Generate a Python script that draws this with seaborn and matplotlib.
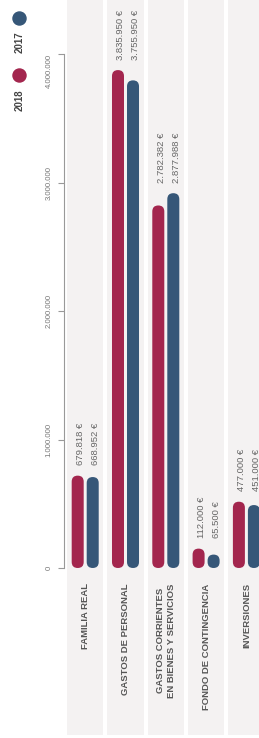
import matplotlib
matplotlib.use("Agg")
import matplotlib.pyplot as plt
from matplotlib.patches import FancyBboxPatch
from matplotlib.lines import Line2D
import seaborn as sns
import pandas as pd

# datos
categorias = ['FAMILIA REAL', 'GASTOS DE PERSONAL',
              'GASTOS CORRIENTES\nEN BIENES Y SERVICIOS',
              'FONDO DE CONTINGENCIA', 'INVERSIONES']
anios = ['2018', '2017']
valores_2018 = [679818, 3835950, 2782382, 112000, 477000]
valores_2017 = [668952, 3755950, 2877988, 65500, 451000]
ticks_y = [0, 1000000, 2000000, 3000000, 4000000]

colores = {'2018': '#a3264e', '2017': '#365778'}
gris_fondo = '#f4f2f2'

df = pd.DataFrame({
    'categoria': categorias * 2,
    'anio': ['2018'] * len(categorias) + ['2017'] * len(categorias),
    'valor': valores_2018 + valores_2017,
})


def miles(v):
    return f"{v:,.0f}".replace(',', '.')


sns.set_style('white')
plt.rcParams['font.family'] = ['Liberation Sans', 'DejaVu Sans']

W, H = 259, 738
fig = plt.figure(figsize=(W / 100, H / 100), dpi=100)
# eje: espina izquierda en x=63.5 px, ocupa todo el alto
ax = fig.add_axes([63.5 / W, 0, (W - 63.5) / W, 1])

px_y = 4000000 / 514          # unidades de valor por pixel
px_x = 1 / 40.3               # unidades de categoría por pixel

sns.barplot(data=df, x='categoria', y='valor', hue='anio', hue_order=anios,
            order=categorias, palette=colores, saturation=1, width=0.745,
            gap=0.2, legend=False, ax=ax, zorder=2)

ax.set_xlim((63.5 - 85.2) * px_x, (W - 85.2) * px_x)
ax.set_ylim(-(H - 568) * px_y, 568 * px_y)

# barras con puntas redondeadas
barras = list(ax.patches)
for b in barras:
    x, w, h = b.get_x(), b.get_width(), b.get_height()
    r = w / 2
    aspect = px_y / px_x
    nueva = FancyBboxPatch((x, 0), w, h + 5 * px_y,
                           boxstyle=f"round,pad=0,rounding_size={r}",
                           mutation_aspect=aspect,
                           facecolor=b.get_facecolor(), edgecolor='none',
                           zorder=2)
    b.remove()
    ax.add_patch(nueva)

# franjas de fondo por categoría
for i in range(len(categorias)):
    ax.axvspan(i - 0.4467, i + 0.4467, ymin=3 / H, ymax=1,
               color=gris_fondo, lw=0, zorder=0)

# etiquetas de valor
for i in range(len(categorias)):
    tope = max(valores_2018[i], valores_2017[i])
    for j, vals in enumerate([valores_2018, valores_2017]):
        dx = -0.1862 if j == 0 else 0.1862
        ax.annotate(f"{miles(vals[i])} €", xy=(i + dx, tope),
                    xytext=(2, 11), textcoords='offset points',
                    rotation=90, ha='center', va='bottom',
                    fontsize=6.8, color='#666666')

# nombres de categoría
for i, c in enumerate(categorias):
    ax.annotate(c, xy=(i, 0), xytext=(0, -11), textcoords='offset points',
                rotation=90, ha='center', va='top', multialignment='center',
                fontsize=6.8, fontweight='bold', color='#555555',
                linespacing=1.25)

# eje y
ax.set_xticks([])
ax.set_xlabel('')
ax.set_ylabel('')
ax.set_yticks(ticks_y)
ax.set_yticklabels([miles(t) for t in ticks_y], rotation=90, va='center',
                   fontsize=5.6, color='#777777')
ax.get_yticklabels()[-1].set_va('top')
ax.tick_params(axis='y', length=4, width=0.8, color='#999999', pad=4, left=True)
for s in ['top', 'right', 'bottom']:
    ax.spines[s].set_visible(False)
ax.spines['left'].set_color('#999999')
ax.spines['left'].set_linewidth(0.8)
ax.spines['left'].set_bounds(0, 4000000)
ax.set_facecolor('white')
fig.patch.set_facecolor('white')

# leyenda girada
for anio, (cy, ty) in zip(anios, [(75, 100), (18, 42.5)]):
    fig.add_artist(Line2D([18.5 / W], [1 - cy / H], transform=fig.transFigure,
                          marker='o', markersize=9.4, color=colores[anio], lw=0))
    fig.text(20 / W, 1 - ty / H, anio, rotation=90, ha='center', va='center',
             fontsize=7, fontweight='bold', color='#444444')

fig.savefig('out.png', dpi=100)
